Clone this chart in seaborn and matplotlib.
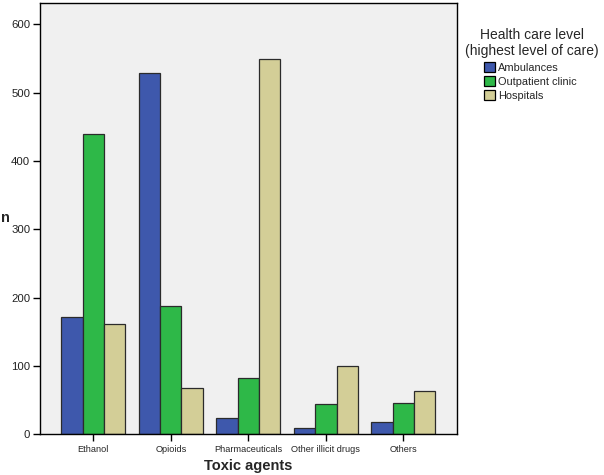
import matplotlib
matplotlib.use("Agg")
import matplotlib.pyplot as plt
import seaborn as sns
import pandas as pd

categories = ["Ethanol", "Opioids", "Pharmaceuticals", "Other illicit drugs", "Others"]
levels = ["Ambulances", "Outpatient clinic", "Hospitals"]
ambulances = [171, 528, 24, 9, 18]
outpatient = [439, 188, 83, 45, 46]
hospitals = [161, 68, 549, 100, 63]
y_ticks = [0, 100, 200, 300, 400, 500, 600]
colors = ["#3E58AC", "#2EB848", "#D3CE97"]

rows = []
for lvl, vals in zip(levels, [ambulances, outpatient, hospitals]):
    for c, v in zip(categories, vals):
        rows.append({"agent": c, "level": lvl, "n": v})
df = pd.DataFrame(rows)

sns.set_style("white")
plt.rcParams["font.family"] = ["Liberation Sans", "DejaVu Sans"]

fig = plt.figure(figsize=(6.04, 4.75), dpi=100)
ax = fig.add_axes([40 / 604, 1 - 434.3 / 475, (456.7 - 40) / 604, (434.3 - 2.7) / 475])
ax.set_facecolor("#F0F0F0")

sns.barplot(data=df, x="agent", y="n", hue="level", order=categories, hue_order=levels,
            palette=colors, saturation=1, width=0.825, gap=0, edgecolor="#2b2b2b",
            linewidth=0.9, errorbar=None, ax=ax, legend=True)

ax.set_xlim(-0.686, 4.686)
ax.set_ylim(0, 631.6)
ax.set_yticks(y_ticks)
ax.set_yticklabels([str(t) for t in y_ticks], fontsize=8.2, color="#222222")
ax.tick_params(axis="y", direction="out", length=5, width=1, color="black", pad=2, left=True)
ax.tick_params(axis="x", direction="out", length=5, width=1, color="black", pad=3, labelsize=6.6, bottom=True)
for s in ax.spines.values():
    s.set_color("black")
    s.set_linewidth(1.0)

ax.set_xlabel("Toxic agents", fontsize=10.5, fontweight="bold", labelpad=3)
ax.set_ylabel("n", fontsize=10.5, fontweight="bold", rotation=0, va="center")
ax.yaxis.set_label_coords(-0.083, 0.5)

handles, labels = ax.get_legend_handles_labels()
ax.get_legend().remove()
fig.text(531.7 / 604, 1 - 43 / 475, "Health care level\n(highest level of care)", ha="center", va="center",
         fontsize=10, linespacing=1.15)
leg = fig.legend(handles, labels, loc="upper left", bbox_to_anchor=(484 / 604, 1 - 62 / 475),
                 frameon=False, fontsize=7.9, handlelength=1.0, handleheight=1.0, handletextpad=0.3,
                 labelspacing=0.32, borderpad=0, borderaxespad=0)
for h in leg.legend_handles:
    h.set_edgecolor("black")
    h.set_linewidth(0.9)

fig.savefig("out.png", dpi=100)
